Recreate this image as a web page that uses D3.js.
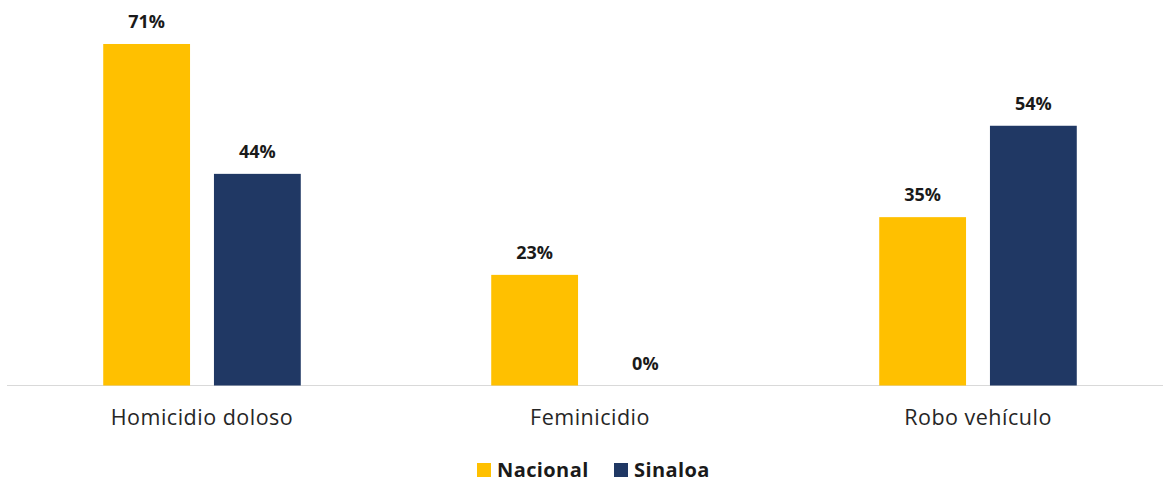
<!DOCTYPE html>
<html>
<head>
<meta charset="utf-8">
<script src="https://cdn.jsdelivr.net/npm/d3@7"></script>
<style>
  html, body { margin: 0; padding: 0; background: #ffffff; }
  svg { display: block; }
</style>
</head>
<body>
<svg id="chart" width="1164" height="483"></svg>
<script>
// Share of crimes (%) by category
const categories = ["Homicidio doloso", "Feminicidio", "Robo vehículo"];
const seriesNames = ["Nacional", "Sinaloa"];
const nacional = [71, 23, 35];
const sinaloa = [44, 0, 54];
const colors = ["#FFC000", "#203864"];

const svg = d3.select("#chart");
const baseY = 385.5;

const x0 = d3.scaleBand().domain(categories).range([8, 1172]).padding(0);
const x1 = d3.scaleBand().domain(seriesNames).range([0, x0.bandwidth()])
  .paddingInner(0.216).paddingOuter(0.86);
const y = d3.scaleLinear().domain([0, 75]).range([baseY, baseY - 75 * 4.81]);

const rows = categories.map((c, i) => ({
  cat: c,
  values: [
    { s: "Nacional", v: nacional[i], color: colors[0] },
    { s: "Sinaloa", v: sinaloa[i], color: colors[1] }
  ]
}));

// Baseline
svg.append("line")
  .attr("x1", 7).attr("x2", 1163)
  .attr("y1", baseY).attr("y2", baseY)
  .attr("stroke", "#d9d9d9").attr("stroke-width", 1.2);

const groups = svg.append("g").selectAll("g").data(rows).join("g")
  .attr("transform", d => `translate(${x0(d.cat)},0)`);

groups.selectAll("rect").data(d => d.values).join("rect")
  .attr("x", d => x1(d.s))
  .attr("width", x1.bandwidth())
  .attr("y", d => y(d.v))
  .attr("height", d => baseY - y(d.v))
  .attr("fill", d => d.color);

groups.selectAll("text.val").data(d => d.values).join("text")
  .attr("class", "val")
  .attr("x", d => x1(d.s) + x1.bandwidth() / 2)
  .attr("y", d => y(d.v) - 16)
  .attr("text-anchor", "middle")
  .attr("font-family", "'Open Sans', sans-serif")
  .attr("font-weight", "bold")
  .attr("font-size", 18)
  .attr("fill", "#1a1a1a")
  .text(d => d.v + "%");

// Category labels
const axis = svg.append("g").attr("transform", `translate(0,${baseY})`)
  .call(d3.axisBottom(x0).tickSize(0).tickPadding(24));
axis.select(".domain").remove();
axis.selectAll("text")
  .attr("font-family", "'Open Sans', sans-serif")
  .attr("font-size", 21.5)
  .attr("letter-spacing", "0.5px")
  .attr("fill", "#262626");

// Legend
const legend = svg.append("g").attr("transform", "translate(477,470)");
const items = [
  { name: seriesNames[0], color: colors[0], x: 0 },
  { name: seriesNames[1], color: colors[1], x: 137 }
];
const li = legend.selectAll("g").data(items).join("g")
  .attr("transform", d => `translate(${d.x},0)`);
li.append("rect").attr("x", 0).attr("y", -7).attr("width", 14).attr("height", 14)
  .attr("fill", d => d.color);
li.append("text").attr("x", 20).attr("y", 7)
  .attr("font-family", "'Open Sans', sans-serif")
  .attr("font-weight", "bold")
  .attr("font-size", 20)
  .attr("letter-spacing", "0.4px")
  .attr("fill", "#1a1a1a")
  .text(d => d.name);
</script>
</body>
</html>
